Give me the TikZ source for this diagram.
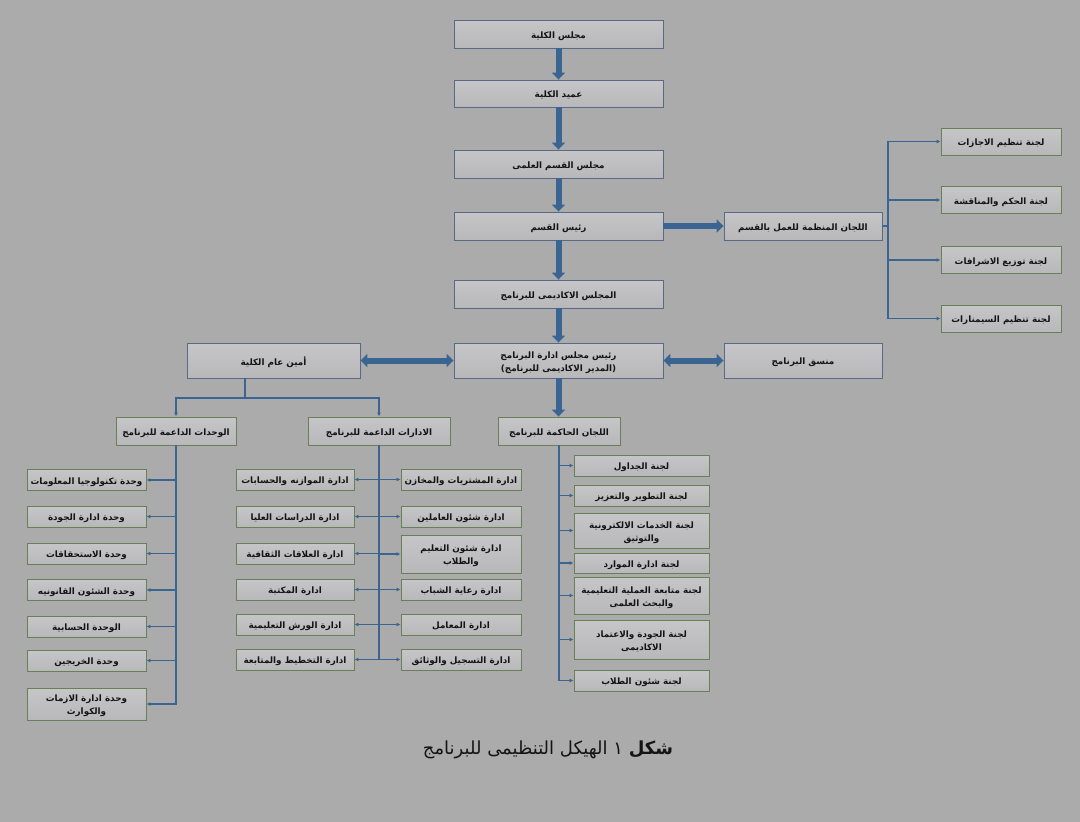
\documentclass[tikz,border=0pt]{standalone}
\usepackage{fontspec}
\usepackage{tikz}
\usepackage{xcolor}
\usetikzlibrary{arrows.meta, positioning, calc}
\newfontfamily\arabicfont[Script=Arabic]{DejaVu Sans}
\TeXXeTstate=1
\newcommand{\artx}[1]{\beginR\raisebox{-1.8pt}[\height][\depth]{#1}\endR}
\definecolor{cBg}{RGB}{171,171,171}
\definecolor{cBoxTop}{RGB}{198,198,200}
\definecolor{cBoxBot}{RGB}{184,184,186}
\definecolor{cEdgeBlue}{RGB}{88,106,134}
\definecolor{cEdgeGreen}{RGB}{104,128,88}
\definecolor{cArrow}{RGB}{58,100,146}
\definecolor{cText}{RGB}{20,20,20}
\tikzset{
	chainbox/.style ={rectangle, draw=cEdgeBlue, line width=0.9pt, top color=cBoxTop, bottom color=cBoxBot, minimum width=209pt, minimum height=28pt, align=center, inner sep=1pt, text=cText, font=\arabicfont\bfseries\fontsize{8.8}{13}\selectfont},
	unitbox/.style  ={chainbox, draw=cEdgeGreen, minimum height=21pt},
	bigsig/.style   ={-{Triangle[length=7pt, width=13pt]}, line width=6pt, cArrow},
	dblsig/.style   ={{Triangle[length=7pt, width=13pt]}-{Triangle[length=7pt, width=13pt]}, line width=6pt, cArrow},
	sig/.style      ={-{Latex[length=4pt, width=4pt]}, line width=1.5pt, cArrow},
	wire/.style     ={line width=1.5pt, cArrow},
}
\begin{document}
\begin{tikzpicture}[x=1pt, y=-1pt]
	% background
	\fill[cBg] (0,0) rectangle (1080,822);
	\useasboundingbox (0,0) rectangle (1080,822);
	% main chain
	\node[chainbox] (kolMajlis) at (558.5,34) {\artx{مجلس الكلية}};
	\node[chainbox, minimum height=27pt] (amid) at (558.5,93.5) {\artx{عميد الكلية}};
	\node[chainbox] (qismMajlis) at (558.5,164) {\artx{مجلس القسم العلمى}};
	\node[chainbox] (qismRais) at (558.5,226) {\artx{رئيس القسم}};
	\node[chainbox] (akadMajlis) at (558.5,294) {\artx{المجلس الاكاديمى للبرنامج}};
	\node[chainbox, minimum height=35pt] (progRais) at (558.5,360.5) {\artx{رئيس مجلس ادارة البرنامج}\\ \artx{(المدير الاكاديمى للبرنامج)}};
	\draw[bigsig] (kolMajlis) -- (amid);
	\draw[bigsig] (amid) -- (qismMajlis);
	\draw[bigsig] (qismMajlis) -- (qismRais);
	\draw[bigsig] (qismRais) -- (akadMajlis);
	\draw[bigsig] (akadMajlis) -- (progRais);
	% department committees
	\node[chainbox, minimum width=158pt] (lajan) at (803,226) {\artx{اللجان المنظمة للعمل بالقسم}};
	\draw[bigsig] (qismRais) -- (lajan);
	\node[unitbox, minimum width=120pt, minimum height=27pt] (k1) at (1001,141.5) {\artx{لجنة تنظيم الاجازات}};
	\node[unitbox, minimum width=120pt, minimum height=27pt] (k2) at (1001,200) {\artx{لجنة الحكم والمناقشة}};
	\node[unitbox, minimum width=120pt, minimum height=27pt] (k3) at (1001,260) {\artx{لجنة توزيع الاشرافات}};
	\node[unitbox, minimum width=120pt, minimum height=27pt] (k4) at (1001,318.5) {\artx{لجنة تنظيم السيمنارات}};
	\coordinate (kJoin) at (888,226);
	\draw[wire] (lajan.east) -- (kJoin);
	\draw[sig] (kJoin) |- (k1.west);
	\draw[sig] (kJoin) |- (k2.west);
	\draw[sig] (kJoin) |- (k3.west);
	\draw[sig] (kJoin) |- (k4.west);
	% program row
	\node[chainbox, minimum width=173pt, minimum height=35pt] (amin) at (273.5,360.5) {\artx{أمين عام الكلية}};
	\node[chainbox, minimum width=158pt, minimum height=35pt] (munassiq) at (803,360.5) {\artx{منسق البرنامج}};
	\draw[dblsig] (amin) -- (progRais);
	\draw[dblsig] (progRais) -- (munassiq);
	% second level
	\node[unitbox, minimum width=120pt, minimum height=28pt] (wahdat) at (176,431) {\artx{الوحدات الداعمة للبرنامج}};
	\node[unitbox, minimum width=142pt, minimum height=28pt] (idarat) at (379,431) {\artx{الادارات الداعمة للبرنامج}};
	\node[unitbox, minimum width=122pt, minimum height=28pt] (hakima) at (559,431) {\artx{اللجان الحاكمة للبرنامج}};
	\draw[bigsig] (progRais.south) -- (progRais.south |- hakima.north);
	\coordinate (aJoin) at (245,398);
	\draw[wire] (amin.south -| aJoin) -- (aJoin);
	\draw[sig] (aJoin) -| (wahdat.north);
	\draw[sig] (aJoin) -| (idarat.north);
	% support units
	\node[unitbox, minimum width=119pt] (w1) at (86.5,480) {\artx{وحدة تكنولوجيا المعلومات}};
	\node[unitbox, minimum width=119pt] (w2) at (86.5,516.5) {\artx{وحدة ادارة الجودة}};
	\node[unitbox, minimum width=119pt] (w3) at (86.5,553.5) {\artx{وحدة الاستحقاقات}};
	\node[unitbox, minimum width=119pt] (w4) at (86.5,590) {\artx{وحدة الشئون القانونيه}};
	\node[unitbox, minimum width=119pt] (w5) at (86.5,626.5) {\artx{الوحدة الحسابية}};
	\node[unitbox, minimum width=119pt] (w6) at (86.5,660.5) {\artx{وحدة الخريجين}};
	\node[unitbox, minimum width=119pt, minimum height=32pt] (w7) at (86.5,704) {\artx{وحدة ادارة الازمات}\\ \artx{والكوارث}};
	\draw[sig] (wahdat.south) |- (w1.east);
	\draw[sig] (wahdat.south) |- (w2.east);
	\draw[sig] (wahdat.south) |- (w3.east);
	\draw[sig] (wahdat.south) |- (w4.east);
	\draw[sig] (wahdat.south) |- (w5.east);
	\draw[sig] (wahdat.south) |- (w6.east);
	\draw[sig] (wahdat.south) |- (w7.east);
	% support administrations
	\node[unitbox, minimum width=118pt] (l1) at (295,479.5) {\artx{ادارة الموازنه والحسابات}};
	\node[unitbox, minimum width=118pt] (l2) at (295,516.5) {\artx{ادارة الدراسات العليا}};
	\node[unitbox, minimum width=118pt] (l3) at (295,553.5) {\artx{ادارة العلاقات الثقافية}};
	\node[unitbox, minimum width=118pt] (l4) at (295,589.5) {\artx{ادارة المكتبة}};
	\node[unitbox, minimum width=118pt] (l5) at (295,624.5) {\artx{ادارة الورش التعليمية}};
	\node[unitbox, minimum width=118pt] (l6) at (295,659.5) {\artx{ادارة التخطيط والمتابعة}};
	\node[unitbox, minimum width=120pt] (r1) at (461,479.5) {\artx{ادارة المشتريات والمخازن}};
	\node[unitbox, minimum width=120pt] (r2) at (461,516.5) {\artx{ادارة شئون العاملين}};
	\node[unitbox, minimum width=120pt, minimum height=38pt] (r3) at (461,554) {\artx{ادارة شئون التعليم}\\ \artx{والطلاب}};
	\node[unitbox, minimum width=120pt] (r4) at (461,589.5) {\artx{ادارة رعاية الشباب}};
	\node[unitbox, minimum width=120pt] (r5) at (461,624.5) {\artx{ادارة المعامل}};
	\node[unitbox, minimum width=120pt] (r6) at (461,659.5) {\artx{ادارة التسجيل والوثائق}};
	\draw[sig] (idarat.south) |- (l1.east);
	\draw[sig] (idarat.south) |- (l2.east);
	\draw[sig] (idarat.south) |- (l3.east);
	\draw[sig] (idarat.south) |- (l4.east);
	\draw[sig] (idarat.south) |- (l5.east);
	\draw[sig] (idarat.south) |- (l6.east);
	\draw[sig] (idarat.south) |- (r1.west);
	\draw[sig] (idarat.south) |- (r2.west);
	\draw[sig] (idarat.south) |- (r3.west);
	\draw[sig] (idarat.south) |- (r4.west);
	\draw[sig] (idarat.south) |- (r5.west);
	\draw[sig] (idarat.south) |- (r6.west);
	% governing committees
	\node[unitbox, minimum width=135pt] (h1) at (641.5,465.5) {\artx{لجنة الجداول}};
	\node[unitbox, minimum width=135pt] (h2) at (641.5,495.5) {\artx{لجنة التطوير والتعزيز}};
	\node[unitbox, minimum width=135pt, minimum height=35pt] (h3) at (641.5,530.5) {\artx{لجنة الخدمات الالكترونية}\\ \artx{والتوثيق}};
	\node[unitbox, minimum width=135pt, minimum height=20pt] (h4) at (641.5,563) {\artx{لجنة ادارة الموارد}};
	\node[unitbox, minimum width=135pt, minimum height=37pt] (h5) at (641.5,595.5) {\artx{لجنة متابعة العملية التعليمية}\\ \artx{والبحث العلمى}};
	\node[unitbox, minimum width=135pt, minimum height=39pt] (h6) at (641.5,639.5) {\artx{لجنة الجودة والاعتماد}\\ \artx{الاكاديمى}};
	\node[unitbox, minimum width=135pt] (h7) at (641.5,680.5) {\artx{لجنة شئون الطلاب}};
	\draw[sig] (hakima.south) |- (h1.west);
	\draw[sig] (hakima.south) |- (h2.west);
	\draw[sig] (hakima.south) |- (h3.west);
	\draw[sig] (hakima.south) |- (h4.west);
	\draw[sig] (hakima.south) |- (h5.west);
	\draw[sig] (hakima.south) |- (h6.west);
	\draw[sig] (hakima.south) |- (h7.west);
	% caption
	\node[text=cText, font=\arabicfont\fontsize{18}{21}\selectfont] (caption) at (548,748) {\artx{\textbf{شكل} ١ الهيكل التنظيمى للبرنامج}};
\end{tikzpicture}
\end{document}
